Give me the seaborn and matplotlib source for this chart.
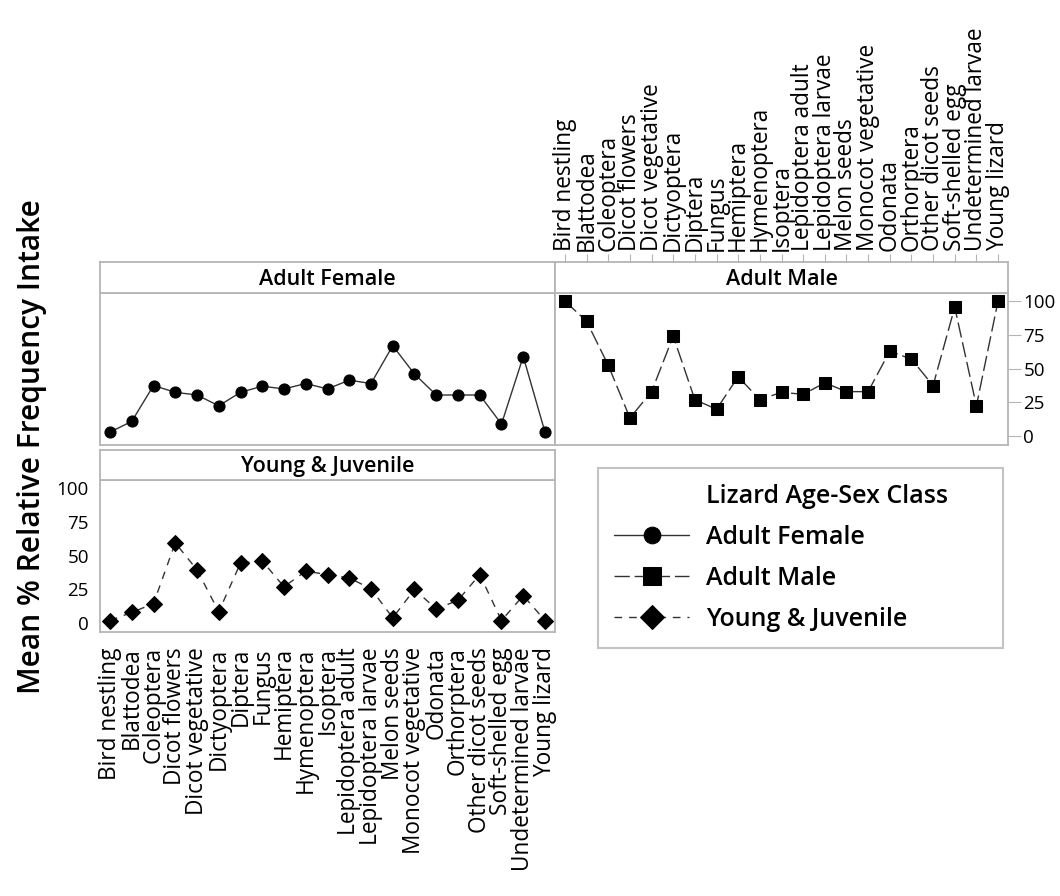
import pandas as pd
import matplotlib
matplotlib.use('Agg')
import matplotlib.pyplot as plt
import seaborn as sns
from matplotlib.lines import Line2D

# food categories (x axis)
categories = ['Bird nestling', 'Blattodea', 'Coleoptera', 'Dicot flowers', 'Dicot vegetative',
              'Dictyoptera', 'Diptera', 'Fungus', 'Hemiptera', 'Hymenoptera', 'Isoptera',
              'Lepidoptera adult', 'Lepidoptera larvae', 'Melon seeds', 'Monocot vegetative',
              'Odonata', 'Orthorptera', 'Other dicot seeds', 'Soft-shelled egg',
              'Undetermined larvae', 'Young lizard']

# mean % relative frequency intake
adult_female = [3, 11, 37.5, 32.5, 30.5, 22.5, 32.5, 37, 35, 39, 35, 41.5, 39, 67, 46,
                30.5, 30.5, 30.5, 9, 59, 3]
adult_male = [100, 85, 52.5, 13.5, 33, 74, 27, 20, 44, 27, 32.5, 31, 39.5, 33, 33,
              63, 57, 37.5, 95.5, 22.5, 100]
young_juvenile = [2, 8, 14.5, 59.5, 39.5, 8.5, 44.5, 46, 27, 38.5, 36, 33.5, 25.5, 4, 25,
                  10.5, 17, 36, 2, 20.5, 2]

classes = ['Adult Female', 'Adult Male', 'Young & Juvenile']
yticks = [0, 25, 50, 75, 100]

df = pd.DataFrame({
    'Food': categories * 3,
    'Intake': adult_female + adult_male + young_juvenile,
    'Class': [c for c in classes for _ in categories],
})

sns.set_style('white')
plt.rcParams['font.family'] = ['Open Sans', 'DejaVu Sans']
plt.rcParams['text.color'] = 'black'
plt.rcParams['xtick.color'] = 'black'
plt.rcParams['ytick.color'] = 'black'
GREY = '#b5b5b5'

fig = plt.figure(figsize=(10.6, 8.96), dpi=100)
W, H = 1060, 896


def box(x0, y0, x1, y1):
    return [x0 / W, 1 - y1 / H, (x1 - x0) / W, (y1 - y0) / H]


# panel plot areas and header strips (pixel boxes)
panels = {
    'Adult Female': (box(100, 293, 555, 445), box(100, 262, 555, 293)),
    'Adult Male': (box(555, 293, 1008, 445), box(555, 262, 1008, 293)),
    'Young & Juvenile': (box(100, 480, 555, 632), box(100, 450, 555, 480)),
}
styles = {
    'Adult Female': dict(marker='o', markersize=8, linestyle='-'),
    'Adult Male': dict(marker='s', markersize=8.5, linestyle=(0, (11, 3.5))),
    'Young & Juvenile': dict(marker='D', markersize=8, linestyle=(0, (5.5, 5))),
}

axes = {}
for name in classes:
    rect, hrect = panels[name]
    ax = fig.add_axes(rect)
    sns.lineplot(data=df[df['Class'] == name], x='Food', y='Intake', ax=ax, sort=False,
                 color='#333333', lw=1, markerfacecolor='black', markeredgecolor='black',
                 **styles[name])
    ax.set_xlim(-0.46, 20.46)
    ax.set_ylim(-6.5, 106)
    ax.set_xlabel('')
    ax.set_ylabel('')
    for s in ax.spines.values():
        s.set_color(GREY)
        s.set_linewidth(1.3)
    ax.tick_params(length=0, labelbottom=False, labelleft=False)

    hax = fig.add_axes(hrect, sharex=ax)
    hax.set_yticks([])
    for s in hax.spines.values():
        s.set_color(GREY)
        s.set_linewidth(1.3)
    hax.text(0.5, 0.45, name, transform=hax.transAxes, ha='center', va='center',
             fontsize=15.5, fontweight='semibold')
    hax.tick_params(length=0, labelbottom=False, labelleft=False)
    axes[name] = (ax, hax)

# Adult Male: y ticks on right, x labels on top of header
ax, hax = axes['Adult Male']
ax.yaxis.tick_right()
ax.set_yticks(yticks)
ax.tick_params(axis='y', length=9, color=GREY, labelright=True, labelsize=13.5, pad=2)
hax.xaxis.tick_top()
hax.tick_params(axis='x', length=6, color=GREY, labeltop=True, labelsize=16.3,
                labelrotation=90, pad=2)

# Young & Juvenile: y ticks left, x labels bottom
ax, hax = axes['Young & Juvenile']
ax.set_yticks(yticks)
ax.tick_params(axis='y', length=5, color=GREY, labelleft=True, labelsize=13.5, pad=3)
ax.tick_params(axis='x', length=6, color=GREY, labelbottom=True, labelsize=16.3,
               labelrotation=90, pad=5)

fig.text(32 / W, 1 - 447 / H, 'Mean % Relative Frequency Intake', rotation=90, ha='center',
         va='center', fontsize=21.5, fontweight='semibold')

# legend
handles = [Line2D([], [], linestyle='none')]
labels = ['Lizard Age-Sex Class']
for name in classes:
    handles.append(axes[name][0].lines[0])
    labels.append(name)
leg = fig.legend(handles, labels, loc='upper left',
                 bbox_to_anchor=(598 / W, 1 - 650 / H, 405 / W, 182 / H), mode='expand',
                 fontsize=18, frameon=True, fancybox=False, edgecolor=GREY,
                 handlelength=3.0, handletextpad=0.68, labelspacing=0.63, borderpad=0.65,
                 markerscale=1.5, borderaxespad=0)
leg.get_frame().set_linewidth(1.5)
for t in leg.get_texts():
    t.set_fontweight('semibold')

fig.savefig('out.png', dpi=100)
